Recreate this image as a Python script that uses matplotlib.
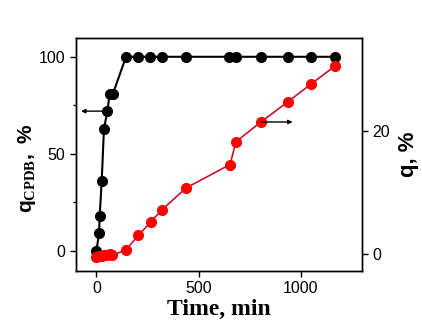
import numpy as np
import matplotlib
matplotlib.use("Agg")
import matplotlib.pyplot as plt

plt.rcParams['font.family'] = 'Liberation Sans'
plt.rcParams['mathtext.fontset'] = 'custom'
plt.rcParams['mathtext.bf'] = 'Liberation Sans:bold'
plt.rcParams['mathtext.rm'] = 'Liberation Serif:bold'

# CPDB conversion (left axis), time in min
t_cpdb = [0, 13, 16, 26, 37, 54, 65, 81, 145, 205, 263, 320, 437,
          650, 683, 803, 938, 1052, 1169]
q_cpdb = [0, 9, 18, 36, 63, 72, 81, 81, 100, 100, 100, 100, 100,
          100, 100, 100, 100, 100, 100]

# monomer conversion (right axis)
t_q = [0, 13, 26, 37, 54, 65, 78, 145, 205, 267, 319, 439,
       654, 683, 805, 938, 1052, 1169]
q = [-0.5, -0.4, -0.3, -0.2, -0.1, 0.0, -0.2, 0.65, 3.0, 5.2, 7.1, 10.7,
     14.5, 18.2, 21.4, 24.7, 27.6, 30.5]

fig = plt.figure(figsize=(4.22, 3.26), dpi=100)
ax = fig.add_axes([0.180, 0.169, 0.678, 0.714])
ax2 = ax.twinx()

ax.plot(t_cpdb, q_cpdb, '-', color='black', lw=1.5, marker='o',
        ms=7, mfc='black', mec='black', zorder=3)
ax2.plot(t_q, q, '-', color='#c8102e', lw=1.2, marker='o',
         ms=7, mfc='#ff0000', mec='#ff0000', zorder=3)

ax.set_xlim(-100, 1300)
ax.set_ylim(-10.3, 109.6)
ax2.set_ylim(-2.76, 35.0)

ax.set_xticks([0, 500, 1000])
ax.set_yticks([0, 50, 100])
ax.set_yticks([25, 75], minor=True)
ax2.set_yticks([0, 20])

for a in (ax, ax2):
    a.tick_params(direction='out', labelsize=11.5, length=4, width=1)
    a.tick_params(which='minor', direction='out', length=2.5, width=1)
    for s in a.spines.values():
        s.set_linewidth(1.0)

# arrows marking which axis each series belongs to
ax.annotate('', xy=(-75, 72), xytext=(54, 72),
            arrowprops=dict(arrowstyle='-|>', color='black', lw=1,
                            mutation_scale=6, shrinkA=0, shrinkB=0))
ax2.annotate('', xy=(960, 21.4), xytext=(805, 21.4),
             arrowprops=dict(arrowstyle='-|>', color='black', lw=1,
                             mutation_scale=6, shrinkA=0, shrinkB=0))

ax.set_xlabel('Time, min', family='Liberation Serif', fontweight='bold',
              fontsize=17, labelpad=2)
ax.set_ylabel(r'$\mathbf{q}_{\mathrm{CPDB}}\mathbf{,\ \%}$', fontsize=15)
ax.yaxis.set_label_coords(-0.133, 0.44)
ax2.set_ylabel('q, %', fontweight='bold', fontsize=16, labelpad=6)

fig.savefig('out.png', dpi=100)
